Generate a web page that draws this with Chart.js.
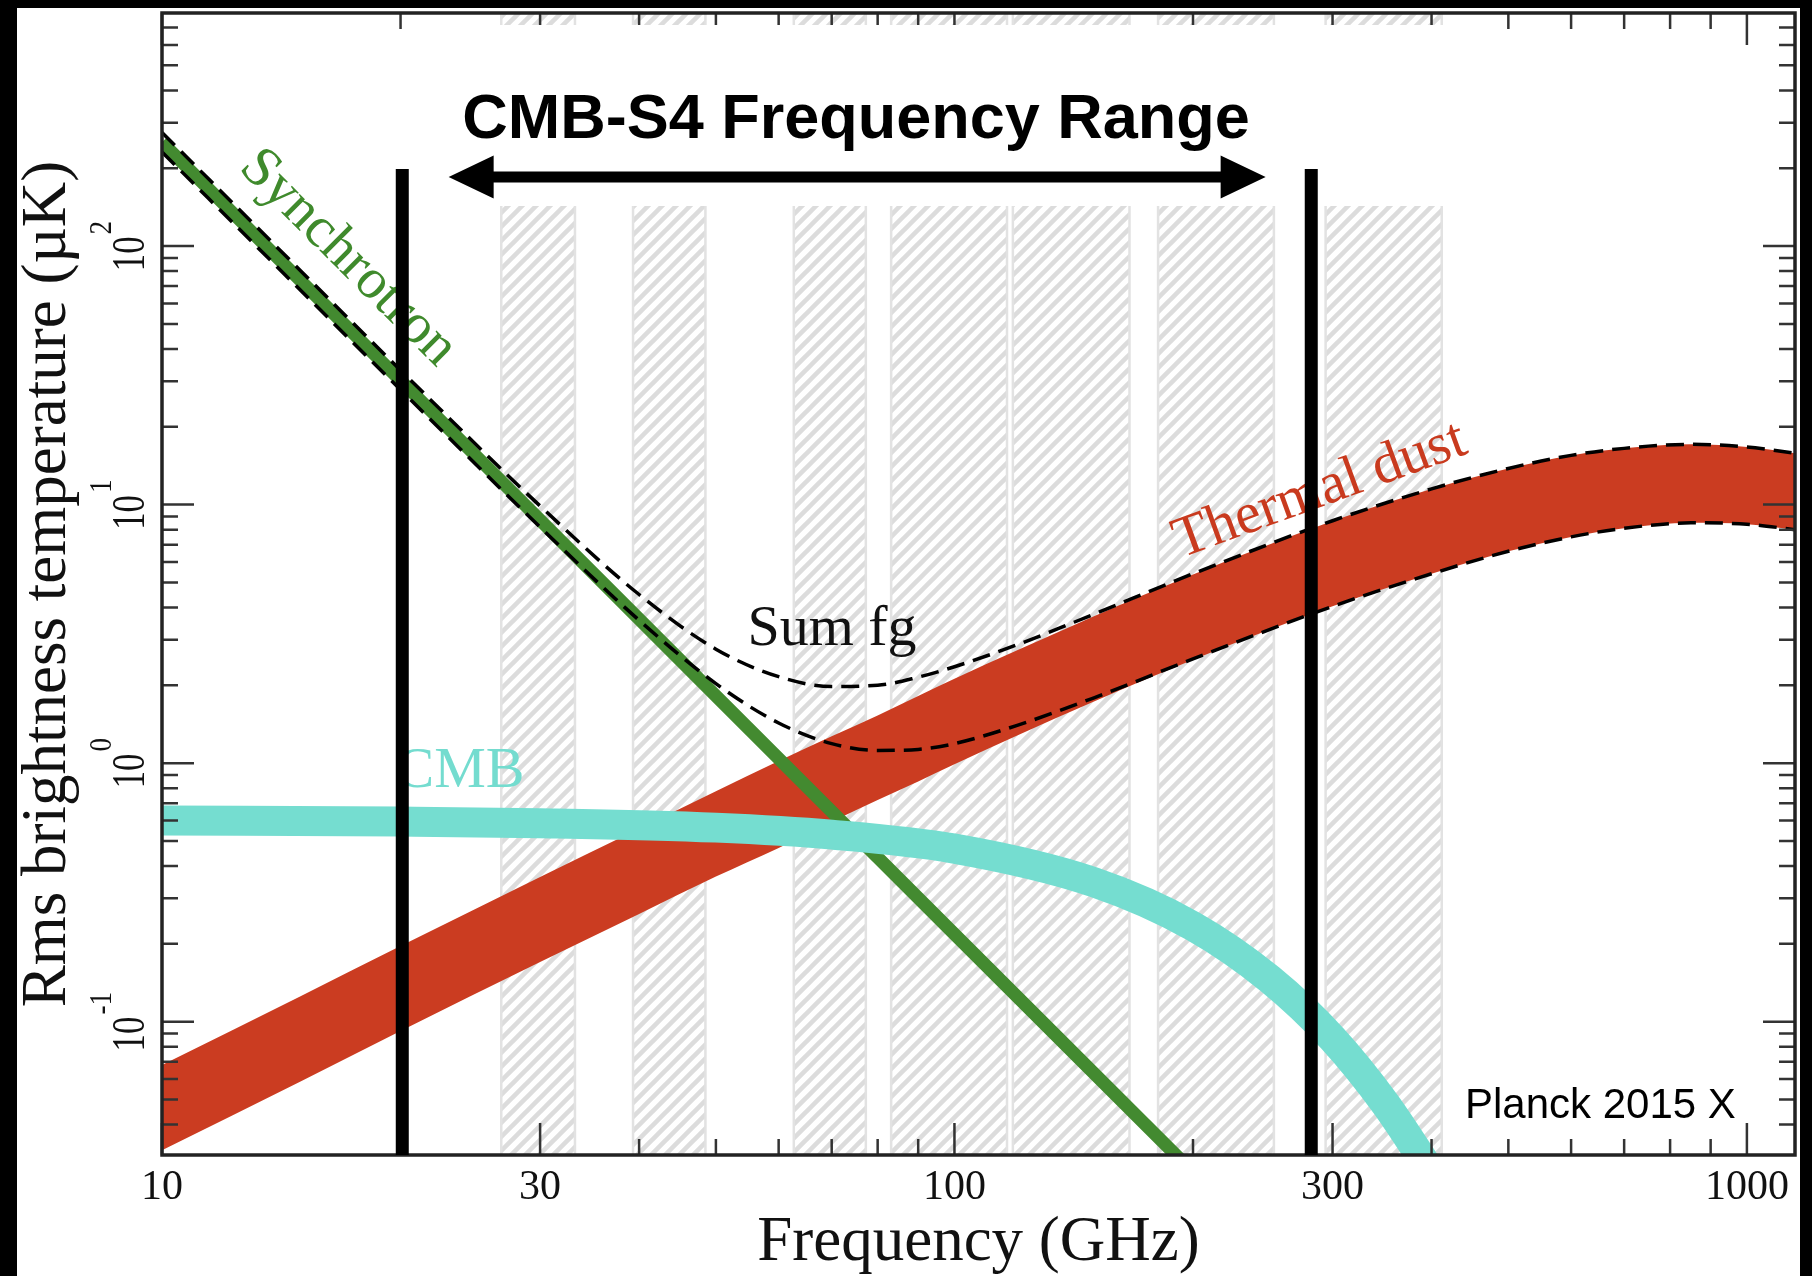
<!DOCTYPE html>
<html>
<head>
<meta charset="utf-8">
<title>Foreground rms vs frequency</title>
<style>
  html, body { margin: 0; padding: 0; background: #000; }
  canvas { display: block; }
</style>
</head>
<body>
<canvas id="fg" width="1812" height="1276"></canvas>

<script src="https://cdn.jsdelivr.net/npm/chart.js@4.4.1/dist/chart.umd.min.js"></script>
<script>

// frequency in GHz, rms brightness temperature in uK
var dustFreq = [10, 15, 20, 30, 40, 50, 60, 70, 80, 90, 100, 120, 150, 200, 300, 400, 500, 600, 700, 850, 1000, 1150];
var dustHigh = [0.068, 0.126, 0.196, 0.363, 0.558, 0.778, 1.02, 1.27, 1.53, 1.82, 2.12, 2.73, 3.70, 5.37, 8.65, 11.5, 13.8, 15.5, 16.5, 17.1, 16.7, 15.8];
var dustLow  = [0.0318, 0.059, 0.092, 0.170, 0.261, 0.364, 0.47, 0.593, 0.72, 0.85, 0.99, 1.28, 1.73, 2.51, 4.04, 5.4, 6.6, 7.5, 8.1, 8.5, 8.4, 8.0];
var sumHigh  = [275, 79.6, 33.1, 9.88, 4.49, 2.76, 2.16, 1.98, 2.00, 2.15, 2.36, 2.87, 3.77, 5.40, 8.66, 11.5, 13.8, 15.5, 16.5, 17.1, 16.7, 15.8];
var sumLow   = [231, 66.9, 27.8, 8.18, 3.57, 2.03, 1.43, 1.19, 1.12, 1.13, 1.19, 1.40, 1.79, 2.53, 4.04, 5.4, 6.6, 7.5, 8.1, 8.5, 8.4, 8.0];

var syncFreq = [10, 20, 50, 100, 200];
var syncT    = [252, 30.2, 1.82, 0.218, 0.0262];

var cmbFreq = [10, 20, 30, 50, 70, 100, 150, 200, 250, 300, 350, 400];
var cmbT    = [0.600, 0.594, 0.586, 0.563, 0.529, 0.467, 0.346, 0.234, 0.146, 0.086, 0.048, 0.026];

// hatched Planck bands [lo, hi] GHz
var planckBands = [[26.8, 33.2], [39.3, 48.5], [62.7, 77.3], [83.2, 116.5], [118.5, 166.3], [180.7, 253], [294, 412]];
// CMB-S4 range markers and arrow ends
var s4Limits = [20.1, 282];
var s4Arrow = [23, 247];

var xMajor = [10, 30, 100, 300, 1000];
var xMinor = [20, 40, 50, 60, 70, 80, 90, 200, 400, 500, 600, 700, 800, 900];
var yMajorExp = [-1, 0, 1, 2];

var X_MIN = 10, X_MAX = 1150, Y_MIN = 0.0305, Y_MAX = 797;

var SERIF = '"Liberation Serif", "Times New Roman", serif';
var SANS = '"Liberation Sans", Arial, sans-serif';

function pts(xs, ys) {
    return xs.map(function (x, i) { return {x: x, y: ys[i]}; });
}

function yMinorTicks() {
    var out = [];
    [0.01, 0.1, 1, 10, 100].forEach(function (d) {
        for (var k = 2; k < 10; k++) {
            var v = k * d;
            if (v > Y_MIN && v < Y_MAX) out.push(v);
        }
    });
    return out;
}

function hatchPattern(ctx) {
    var c = document.createElement('canvas');
    c.width = 14; c.height = 14;
    var g = c.getContext('2d');
    g.strokeStyle = '#dcdcdc';
    g.lineWidth = 4.5;
    g.beginPath(); g.moveTo(-3, 17); g.lineTo(17, -3); g.stroke();
    g.beginPath(); g.moveTo(-3, 3); g.lineTo(3, -3); g.stroke();
    g.beginPath(); g.moveTo(11, 17); g.lineTo(17, 11); g.stroke();
    return ctx.createPattern(c, 'repeat');
}

function drawPow(ctx, y, exp) {
    var sup = String(exp);
    ctx.save();
    ctx.translate(144, y);
    ctx.rotate(-Math.PI / 2);
    ctx.fillStyle = '#111';
    ctx.textBaseline = 'alphabetic';
    ctx.textAlign = 'left';
    ctx.font = '47px ' + SERIF;
    var wb = ctx.measureText('10').width * 0.74;
    ctx.font = '32px ' + SERIF;
    var ws = ctx.measureText(sup).width * 0.85;
    var x0 = -(wb + ws + 2) / 2;
    ctx.save();
    ctx.scale(0.74, 1);
    ctx.font = '47px ' + SERIF;
    ctx.fillText('10', x0 / 0.74, 0);
    ctx.restore();
    ctx.save();
    ctx.translate(x0 + wb + 2, -33);
    ctx.scale(0.85, 1);
    ctx.font = '32px ' + SERIF;
    ctx.fillText(sup, 0, 0);
    ctx.restore();
    ctx.restore();
}

function rotText(ctx, txt, x, y, ang, font, color) {
    ctx.save();
    ctx.translate(x, y);
    ctx.rotate(ang);
    ctx.font = font;
    ctx.fillStyle = color;
    ctx.textAlign = 'center';
    ctx.textBaseline = 'middle';
    ctx.fillText(txt, 0, 0);
    ctx.restore();
}

var decor = {
    id: 'decor',
    beforeDraw: function (chart) {
        var ctx = chart.ctx;
        ctx.save();
        ctx.fillStyle = '#000';
        ctx.fillRect(0, 0, chart.width, chart.height);
        ctx.fillStyle = '#fff';
        ctx.fillRect(17, 8, 1783, chart.height - 8);
        ctx.restore();
    },
    beforeDatasetsDraw: function (chart) {
        var ctx = chart.ctx, a = chart.chartArea, xs = chart.scales.x;
        ctx.save();
        ctx.beginPath();
        ctx.rect(a.left, a.top, a.right - a.left, a.bottom - a.top);
        ctx.clip();
        var pat = hatchPattern(ctx);
        planckBands.forEach(function (b) {
            var x0 = xs.getPixelForValue(b[0]), x1 = xs.getPixelForValue(b[1]);
            ctx.fillStyle = pat;
            ctx.fillRect(x0, a.top, x1 - x0, a.bottom - a.top);
            ctx.strokeStyle = '#e2e2e2';
            ctx.lineWidth = 2.5;
            ctx.strokeRect(x0, a.top - 5, x1 - x0, a.bottom - a.top + 10);
        });
        ctx.restore();
    },
    afterDatasetsDraw: function (chart) {
        var ctx = chart.ctx, a = chart.chartArea;
        var xs = chart.scales.x, ys = chart.scales.y;
        ctx.save();

        // inward ticks on all four sides
        ctx.strokeStyle = '#333';
        ctx.lineWidth = 2.5;
        ctx.beginPath();
        function xt(v, len) {
            var p = xs.getPixelForValue(v);
            ctx.moveTo(p, a.bottom); ctx.lineTo(p, a.bottom - len);
            ctx.moveTo(p, a.top); ctx.lineTo(p, a.top + len);
        }
        function yt(v, len) {
            var p = ys.getPixelForValue(v);
            ctx.moveTo(a.left, p); ctx.lineTo(a.left + len, p);
            ctx.moveTo(a.right, p); ctx.lineTo(a.right - len, p);
        }
        xMajor.forEach(function (v) { xt(v, 32); });
        xMinor.forEach(function (v) { xt(v, 16); });
        yMajorExp.forEach(function (e) { yt(Math.pow(10, e), 32); });
        yMinorTicks().forEach(function (v) { yt(v, 16); });
        ctx.stroke();

        // white panel behind the range annotation
        ctx.fillStyle = '#fff';
        ctx.fillRect(480, 25, 980, 181);

        // frame
        ctx.strokeStyle = '#222';
        ctx.lineWidth = 3.5;
        ctx.strokeRect(a.left, a.top, a.right - a.left, a.bottom - a.top);

        // in-plot labels
        rotText(ctx, 'Synchrotron', 348, 258, Math.PI / 4, '57px ' + SERIF, '#3f8a2c');
        rotText(ctx, 'Thermal dust', 1320, 491, -20 * Math.PI / 180, '58px ' + SERIF, '#c93a1e');
        rotText(ctx, 'Sum fg', 832, 630, 0, '58px ' + SERIF, '#111');
        rotText(ctx, 'CMB', 460, 772, 0, '58px ' + SERIF, '#74dccf');

        // CMB-S4 range bars
        ctx.fillStyle = '#000';
        s4Limits.forEach(function (f) {
            var p = xs.getPixelForValue(f);
            ctx.fillRect(p - 6.5, 169, 13, a.bottom - 169);
        });

        // double arrow
        var l = xs.getPixelForValue(s4Arrow[0]), r = xs.getPixelForValue(s4Arrow[1]);
        var ay = 177;
        ctx.fillRect(l + 40, ay - 5.5, r - l - 80, 11);
        ctx.beginPath();
        ctx.moveTo(l, ay); ctx.lineTo(l + 45, ay - 21.5); ctx.lineTo(l + 45, ay + 21.5); ctx.closePath();
        ctx.moveTo(r, ay); ctx.lineTo(r - 45, ay - 21.5); ctx.lineTo(r - 45, ay + 21.5); ctx.closePath();
        ctx.fill();

        ctx.font = 'bold 63px ' + SANS;
        ctx.textAlign = 'center';
        ctx.textBaseline = 'alphabetic';
        ctx.fillText('CMB-S4 Frequency Range', 856, 138);

        ctx.font = '42px ' + SANS;
        ctx.textAlign = 'left';
        ctx.fillText('Planck 2015 X', 1465, 1118);

        // y tick labels
        yMajorExp.forEach(function (e) { drawPow(ctx, ys.getPixelForValue(Math.pow(10, e)), e); });

        // axis titles
        ctx.fillStyle = '#111';
        ctx.font = '63px ' + SERIF;
        ctx.textAlign = 'center';
        ctx.fillText('Frequency (GHz)', (a.left + a.right) / 2, 1260);
        ctx.save();
        ctx.translate(65, (a.top + a.bottom) / 2);
        ctx.rotate(-Math.PI / 2);
        ctx.fillText('Rms brightness temperature (\u00b5K)', 0, 0);
        ctx.restore();

        ctx.restore();
    }
};

var ctx = document.getElementById('fg').getContext('2d');
var chart = new Chart(ctx, {
    type: 'line',
    data: {
        datasets: [
            {
                label: 'Sum fg (upper)',
                data: pts(dustFreq, sumHigh),
                borderColor: '#000', borderWidth: 3.5, borderDash: [18, 9],
                pointRadius: 0, fill: false, cubicInterpolationMode: 'monotone', clip: 0
            },
            {
                label: 'Sum fg (lower)',
                data: pts(dustFreq, sumLow),
                borderColor: '#000', borderWidth: 3.5, borderDash: [18, 9],
                pointRadius: 0, fill: false, cubicInterpolationMode: 'monotone', clip: 0
            },
            {
                label: 'CMB',
                data: pts(cmbFreq, cmbT),
                borderColor: '#75ddd0', borderWidth: 30, borderCapStyle: 'butt',
                pointRadius: 0, fill: false, cubicInterpolationMode: 'monotone', clip: 0
            },
            {
                label: 'Synchrotron',
                data: pts(syncFreq, syncT),
                borderColor: '#438a30', borderWidth: 13, borderCapStyle: 'butt',
                pointRadius: 0, fill: false, tension: 0, clip: 0
            },
            {
                label: 'Thermal dust (upper)',
                data: pts(dustFreq, dustHigh),
                borderColor: '#cb3c21', borderWidth: 0, backgroundColor: '#cb3c21',
                pointRadius: 0, fill: '+1', cubicInterpolationMode: 'monotone', clip: 0
            },
            {
                label: 'Thermal dust (lower)',
                data: pts(dustFreq, dustLow),
                borderColor: '#cb3c21', borderWidth: 0,
                pointRadius: 0, fill: false, cubicInterpolationMode: 'monotone', clip: 0
            }
        ]
    },
    options: {
        responsive: false,
        animation: false,
        layout: { padding: { left: 0, right: 17, top: 13, bottom: 0 } },
        plugins: { legend: { display: false }, tooltip: { enabled: false } },
        scales: {
            x: {
                type: 'logarithmic', min: X_MIN, max: X_MAX,
                grid: { display: false, drawTicks: false },
                border: { display: false },
                afterBuildTicks: function (s) {
                    s.ticks = xMajor.map(function (v) { return {value: v}; });
                },
                afterFit: function (s) { s.height = 121; },
                ticks: {
                    autoSkip: false, maxRotation: 0, minRotation: 0, padding: 8,
                    color: '#111', font: { family: SERIF, size: 42 },
                    callback: function (v) { return String(v); }
                }
            },
            y: {
                type: 'logarithmic', min: Y_MIN, max: Y_MAX,
                grid: { display: false, drawTicks: false },
                border: { display: false },
                ticks: { display: false },
                afterFit: function (s) { s.width = 162; }
            }
        }
    },
    plugins: [decor]
});
</script>
</body>
</html>
